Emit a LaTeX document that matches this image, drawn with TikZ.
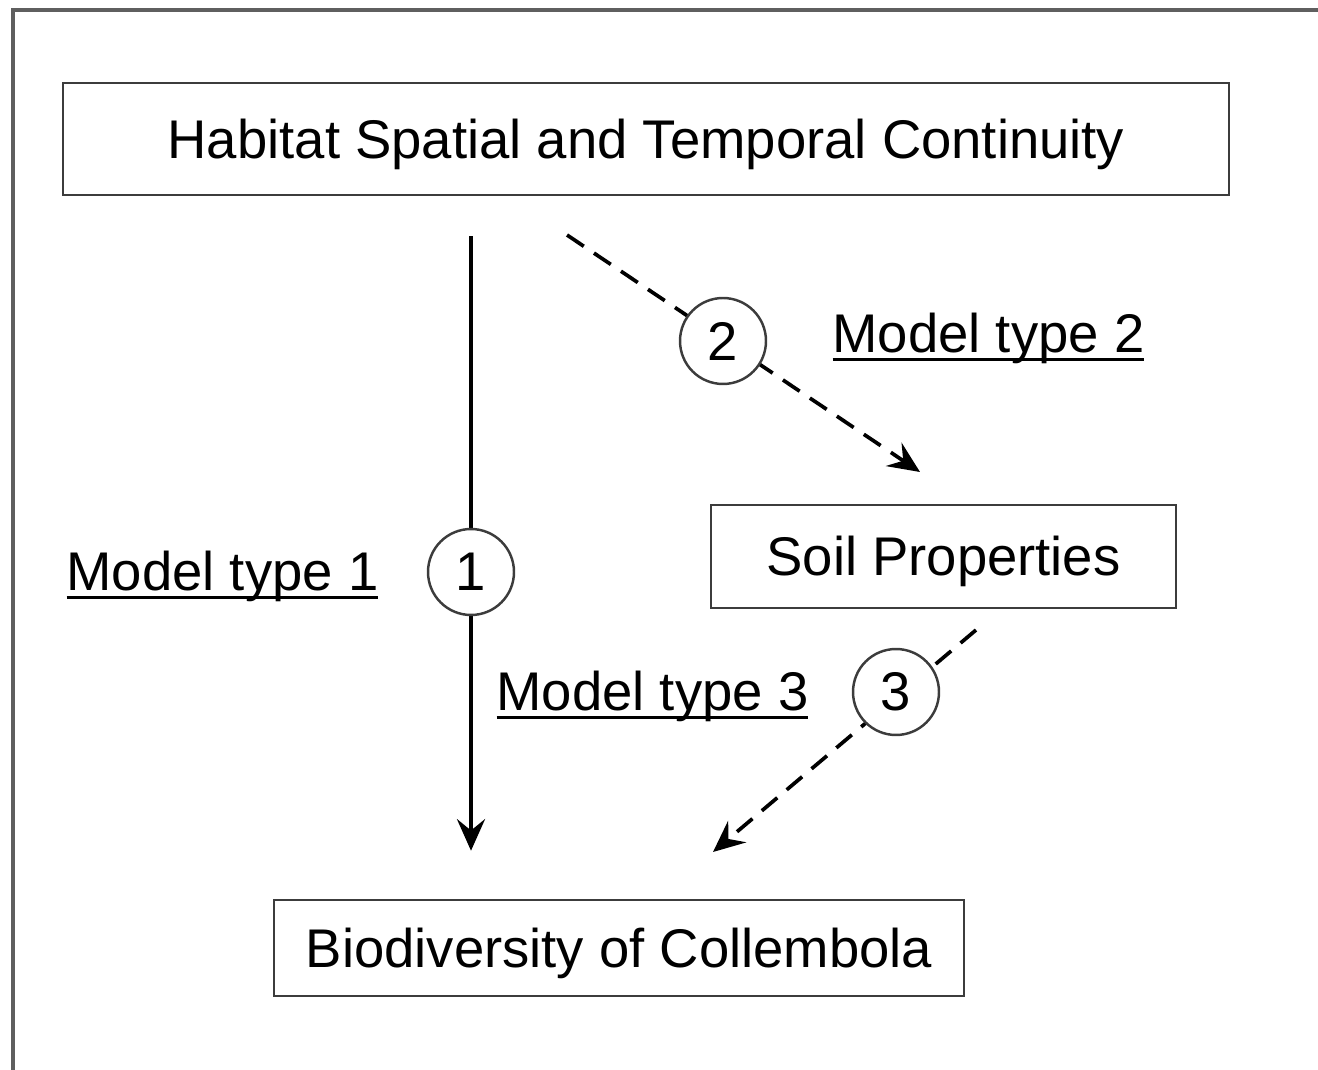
\documentclass[tikz,border=0pt]{standalone}
\usepackage{fontspec}
\setmainfont{Liberation Sans}
\usetikzlibrary{arrows.meta,positioning,backgrounds}
\definecolor{linegray}{RGB}{60,60,60}
\definecolor{framegray}{RGB}{95,95,95}
\newcommand\mtul[1]{\setbox0=\hbox{#1}\rlap{\rule[-0.16em]{\wd0}{0.055em}}\box0}
\tikzset{
  box/.style 2 args={draw=linegray, line width=1.5pt, inner sep=0pt,
    minimum width=#1, minimum height=#2, text height=22pt, text depth=0pt,
    font=\fontsize{31}{36}\selectfont},
  numcircle/.style={draw=linegray, circle, line width=1.4pt, fill=white, inner sep=0pt,
    minimum size=1.72cm, font=\fontsize{31}{36}\selectfont},
  modellabel/.style={inner sep=0pt, font=\fontsize{31}{36}\selectfont},
  frame/.style={draw=framegray, line width=1.8pt},
  solidarrow/.style={-{Stealth[length=18pt, width=16pt, inset=6.5pt]}, line width=2.1pt},
  dasharrow/.style={solidarrow, dash pattern=on 11.5pt off 7pt}
}
\begin{document}
\begin{tikzpicture}[x=0.02cm, y=-0.02cm]
  \useasboundingbox (0,0) rectangle (1318,1070);
  % outer frame, cut off on the right and at the bottom
  \draw[frame] (1318,10) -- (13,10) -- (13,1070);
  \node[box={23.32cm}{2.24cm}] (habitat) at (646,139) {Habitat Spatial and Temporal Continuity};
  \node[box={9.3cm}{2.06cm}] (soil) at (943.5,556.5) {Soil Properties};
  \node[box={13.8cm}{1.92cm}] (collembola) at (619,948) {Biodiversity of Collembola};
  \node[numcircle] (one) at (471,572) {1};
  \node[numcircle] (two) at (723,341) {2};
  \node[numcircle] (three) at (896,692) {3};
  \node[modellabel, left=0.96cm of one, yshift=-0.08cm] (typeone) {\mtul{Model type 1}};
  \node[modellabel, right=1.3cm of two, yshift=0.06cm] (typetwo) {\mtul{Model type 2}};
  \node[modellabel, left=0.86cm of three, yshift=-0.08cm] (typethree) {\mtul{Model type 3}};
  \coordinate (twostart) at (567,235);
  \coordinate (twoend) at (920,472);
  \coordinate (threestart) at (976,630);
  \coordinate (threeend) at (713,852);
  \begin{pgfonlayer}{background}
    \draw[solidarrow, shorten <=0.8cm, shorten >=0.96cm] (habitat.south -| one) -- (collembola.north -| one);
    \draw[dasharrow] (twostart) -- (twoend);
    \draw[dasharrow] (threestart) -- (threeend);
  \end{pgfonlayer}
\end{tikzpicture}
\end{document}
